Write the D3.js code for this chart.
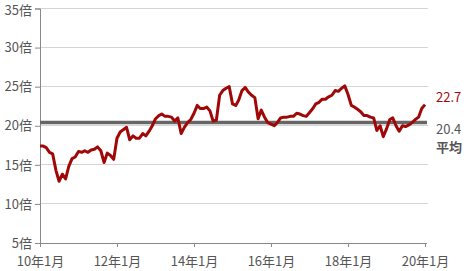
<!DOCTYPE html>
<html><head><meta charset="utf-8">
<script src="https://cdn.jsdelivr.net/npm/d3@7"></script>
<style>
html,body{margin:0;padding:0;background:#fff;}
svg text{font-family:"Noto Sans CJK JP","Noto Sans",sans-serif;}
</style></head>
<body><svg id="c" width="467" height="271"></svg>
<script>
const startYear = 2010, startMonth = 0;
const perValues = [
 17.4,17.4,17.2,16.6,16.4,14.3,12.9,13.8,13.2,14.8,15.8,16.0,
 16.7,16.6,16.8,16.6,16.9,17.0,17.3,16.8,15.3,16.5,16.2,15.7,
 18.4,19.2,19.5,19.8,18.2,18.7,18.4,18.4,19.0,18.7,19.3,20.0,
 20.9,21.3,21.5,21.2,21.2,21.1,20.6,21.0,19.0,19.8,20.4,20.8,
 21.6,22.6,22.2,22.2,22.4,21.9,20.6,20.7,23.9,24.5,24.8,25.0,
 22.8,22.6,23.3,24.5,24.9,24.3,23.9,23.6,20.9,22.0,21.1,20.4,
 20.2,20.0,20.4,21.0,21.1,21.1,21.2,21.2,21.6,21.5,21.3,21.2,
 21.7,22.2,22.8,23.0,23.4,23.4,23.7,23.9,24.5,24.4,24.8,25.1,
 24.0,22.6,22.4,22.1,21.8,21.3,21.3,21.1,21.0,19.4,20.0,18.6,
 19.6,20.8,21.0,20.0,19.3,20.0,19.9,20.1,20.4,20.8,21.1,22.2,
 22.7
];
const average = 20.4;
const yTicks = [5,10,15,20,25,30,35];
const xTickYears = [2010,2012,2014,2016,2018,2020];
const lastLabel = "22.7";
const avgLabel = "20.4";
const avgText = "平均";

const data = perValues.map((v,i)=>({date:new Date(startYear, startMonth+i, 1), v}));
const svg = d3.select("#c");
const x = d3.scaleTime().domain([new Date(2010,0,1), new Date(2020,0,1)]).range([40,425]);
const y = d3.scaleLinear().domain([5,35]).range([243,8.5]);
const xRight = 428;

// gridlines
svg.append("g").selectAll("line").data(yTicks.filter(t=>t>5)).join("line")
  .attr("x1",40).attr("x2",xRight).attr("y1",d=>y(d)).attr("y2",d=>y(d))
  .attr("stroke","#d4d4d4").attr("stroke-width",1).attr("shape-rendering","crispEdges");

// y axis
const yAxis = svg.append("g").attr("transform","translate(40,0)")
  .call(d3.axisLeft(y).tickValues(yTicks).tickSize(5).tickPadding(3).tickFormat(d=>d+"倍"));
yAxis.select(".domain").attr("stroke","#888");
yAxis.selectAll(".tick line").attr("stroke","#888");
yAxis.selectAll("text").attr("fill","#555").style("font-size","13px")
  .attr("dy", d => d === 35 ? "0.45em" : "0.32em");

// x axis
const xAxis = svg.append("g").attr("transform","translate(0,243)")
  .call(d3.axisBottom(x).tickValues(xTickYears.map(yr=>new Date(yr,0,1))).tickSize(4).tickSizeOuter(0).tickPadding(10)
    .tickFormat(d=>String(d.getFullYear()%100).padStart(2,"0")+"年1月"));
xAxis.select(".domain").attr("d",`M40,0.5H${xRight-1}`).attr("stroke","#888");
xAxis.selectAll(".tick line").attr("stroke","#888");
xAxis.selectAll("text").attr("fill","#555").style("font-size","13px");

// average line
svg.append("line").attr("x1",40).attr("x2",xRight-1).attr("y1",y(average)).attr("y2",y(average))
  .attr("stroke","#666").attr("stroke-width",3.5);

// series line
svg.append("path").datum(data)
  .attr("d",d3.line().x(d=>x(d.date)).y(d=>y(d.v)))
  .attr("fill","none").attr("stroke","#a00808").attr("stroke-width",3).attr("stroke-linejoin","round");

// right labels
const last = data[data.length-1];
svg.append("text").attr("x",436).attr("y",y(last.v)-7).attr("dy","0.35em")
  .attr("fill","#a00808").style("font-size","13px").text(lastLabel);
svg.append("text").attr("x",436).attr("y",y(average)+7).attr("dy","0.35em")
  .attr("fill","#555").style("font-size","13px").text(avgLabel);
svg.append("text").attr("x",436).attr("y",y(average)+25).attr("dy","0.35em")
  .attr("fill","#555").style("font-size","13px").style("font-weight","bold").text(avgText);
</script></body></html>
